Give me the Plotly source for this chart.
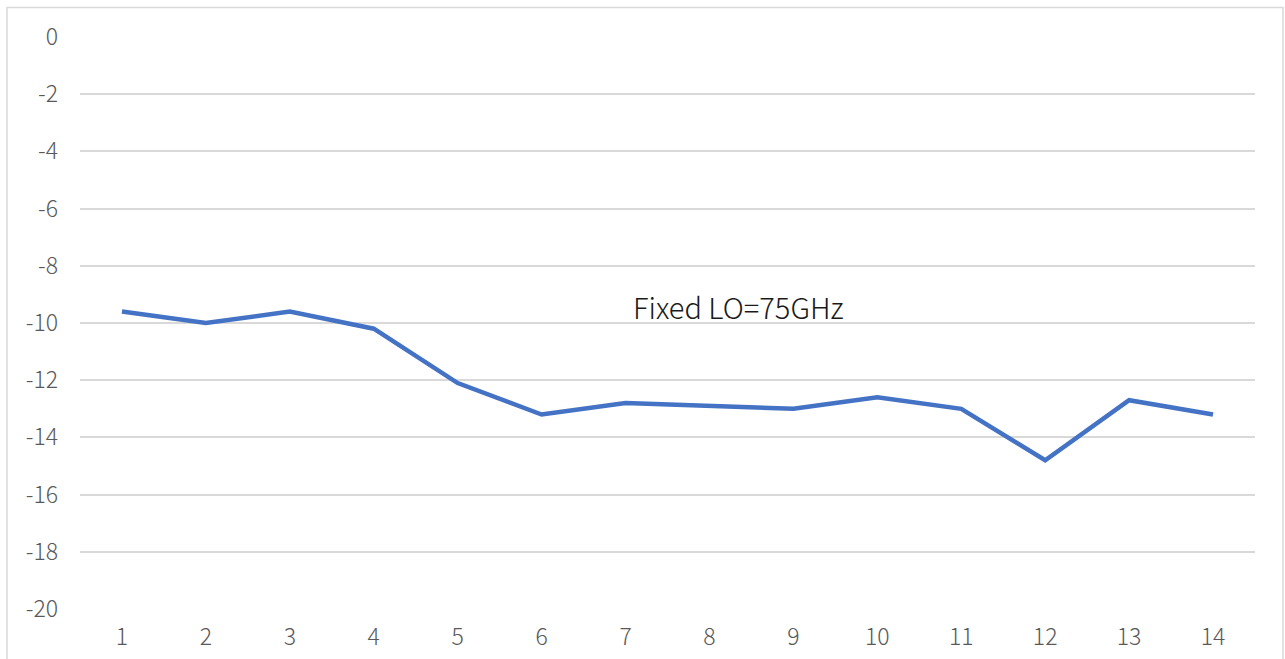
import plotly.graph_objects as go

categories = [str(i) for i in range(1, 15)]
values = [-9.6, -10.0, -9.6, -10.2, -12.1, -13.2, -12.8, -12.9, -13.0, -12.6, -13.0, -14.8, -12.7, -13.2]
y_ticks = list(range(0, -21, -2))
annotation_text = "Fixed LO=75GHz"

W, H = 1285, 659
ml, mt = 80, 37
mr = W - 1255
mb = H - 609
pw, ph = W - ml - mr, H - mt - mb

fig = go.Figure()
fig.add_trace(go.Scatter(
    x=categories, y=values, mode="lines",
    line=dict(color="#4472C4", width=4.5),
    hoverinfo="skip", showlegend=False,
))

font_fam = "Noto Sans CJK SC, Noto Sans, sans-serif"

fig.update_layout(
    width=W, height=H,
    margin=dict(l=ml, r=mr, t=mt, b=mb, autoexpand=False),
    paper_bgcolor="white", plot_bgcolor="white",
    font=dict(family=font_fam, size=23, color="#595959", weight=300),
    xaxis=dict(
        type="category", range=[-0.5, len(categories) - 0.5],
        showgrid=False, zeroline=False, automargin=False,
        showline=False, ticks="", ticklabelstandoff=12,
        tickfont=dict(size=23, color="#595959", weight=300),
    ),
    yaxis=dict(
        range=[-20, 0], tickvals=y_ticks, automargin=False,
        ticktext=[str(v) for v in y_ticks],
        showgrid=True, gridcolor="#d9d9d9", gridwidth=1.5,
        zeroline=False, showline=False, ticks="",
        ticklabelstandoff=21,
        tickfont=dict(size=23, color="#595959", weight=300),
    ),
    annotations=[dict(
        x=(738 - ml) / pw, y=(609 - 306) / ph, xref="paper", yref="paper",
        text=annotation_text, showarrow=False,
        font=dict(family=font_fam, size=29, color="#1a1a1a", weight=300),
        xanchor="center", yanchor="middle",
    )],
    shapes=[dict(
        type="rect", xref="paper", yref="paper",
        x0=(7 - ml) / pw, x1=(1283 - ml) / pw,
        y0=-0.3, y1=(609 - 7.5) / ph,
        line=dict(color="#d9d9d9", width=1.5), fillcolor="rgba(0,0,0,0)",
        layer="below",
    )],
)

fig.write_html(
    "out.html",
    config={"displayModeBar": False},
    post_script="document.body.style.margin='0px';document.body.style.overflow='hidden';",
)
